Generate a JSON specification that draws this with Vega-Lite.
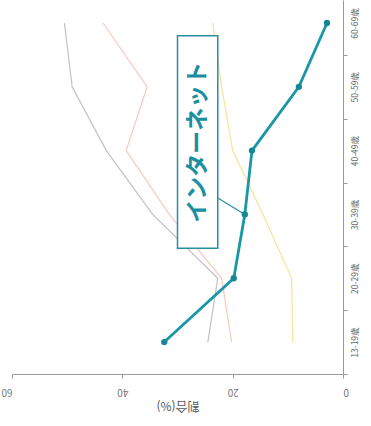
{
  "$schema": "https://vega.github.io/schema/vega-lite/v6.json",
  "width": 331,
  "height": 374,
  "autosize": "none",
  "padding": {"left": 12, "top": 0, "right": 28, "bottom": 52},
  "background": "white",
  "config": {"view": {"stroke": null}, "font": "Noto Sans CJK JP"},
  "datasets": {
    "series": [
      {"media": "テレビ", "age": "13-19歳", "order": 1, "pct": 24.5},
      {"media": "テレビ", "age": "20-29歳", "order": 2, "pct": 22.7},
      {"media": "テレビ", "age": "30-39歳", "order": 3, "pct": 34.5},
      {"media": "テレビ", "age": "40-49歳", "order": 4, "pct": 42.9},
      {"media": "テレビ", "age": "50-59歳", "order": 5, "pct": 49.1},
      {"media": "テレビ", "age": "60-69歳", "order": 6, "pct": 50.5},
      {"media": "新聞", "age": "13-19歳", "order": 1, "pct": 20.2},
      {"media": "新聞", "age": "20-29歳", "order": 2, "pct": 22.0},
      {"media": "新聞", "age": "30-39歳", "order": 3, "pct": 31.5},
      {"media": "新聞", "age": "40-49歳", "order": 4, "pct": 39.3},
      {"media": "新聞", "age": "50-59歳", "order": 5, "pct": 35.5},
      {"media": "新聞", "age": "60-69歳", "order": 6, "pct": 43.5},
      {"media": "雑誌", "age": "13-19歳", "order": 1, "pct": 9.1},
      {"media": "雑誌", "age": "20-29歳", "order": 2, "pct": 9.3},
      {"media": "雑誌", "age": "30-39歳", "order": 3, "pct": 14.5},
      {"media": "雑誌", "age": "40-49歳", "order": 4, "pct": 20.0},
      {"media": "雑誌", "age": "50-59歳", "order": 5, "pct": 22.0},
      {"media": "雑誌", "age": "60-69歳", "order": 6, "pct": 23.6}
    ],
    "internet": [
      {"media": "インターネット", "age": "13-19歳", "order": 1, "pct": 32.4},
      {"media": "インターネット", "age": "20-29歳", "order": 2, "pct": 19.8},
      {"media": "インターネット", "age": "30-39歳", "order": 3, "pct": 17.8},
      {"media": "インターネット", "age": "40-49歳", "order": 4, "pct": 16.5},
      {"media": "インターネット", "age": "50-59歳", "order": 5, "pct": 8.0},
      {"media": "インターネット", "age": "60-69歳", "order": 6, "pct": 2.9}
    ],
    "label": [
      {"text": "インターネット", "x1": 30.0, "x2": 22.7, "y1": 5.80, "y2": 2.47, "xc": 26.35, "yc": 4.13}
    ],
    "leader": [
      {"pct": 22.9, "order": 3.27},
      {"pct": 17.8, "order": 3.0}
    ]
  },
  "layer": [
    {
      "data": {"name": "series"},
      "mark": {"type": "line", "strokeWidth": 1.2, "opacity": 0.75},
      "encoding": {
        "x": {
          "field": "pct", "type": "quantitative",
          "scale": {"domain": [0, 60], "reverse": true, "nice": false},
          "axis": {
            "values": [0, 20, 40, 60], "labelAngle": 180, "title": "割合(%)", "titleAngle": 180,
            "grid": false, "domainColor": "#999", "tickColor": "#999", "tickSize": 4,
            "labelColor": "#777", "labelFontSize": 10, "labelPadding": 8,
            "titleColor": "#555", "titleFontSize": 12, "titleFontWeight": "normal", "titlePadding": 14
          }
        },
        "y": {
          "field": "order", "type": "quantitative",
          "scale": {"domain": [0.5, 6.36], "nice": false, "zero": false},
          "axis": {
            "orient": "right", "values": [1, 2, 3, 4, 5, 6],
            "labelExpr": "['','13-19歳','20-29歳','30-39歳','40-49歳','50-59歳','60-69歳'][datum.value]",
            "labelAngle": 270, "labelAlign": "center", "labelBaseline": "middle",
            "tickOffset": 32, "labelOffset": -32, "grid": false, "title": null,
            "domainColor": "#999", "tickColor": "#999", "tickSize": 4,
            "labelColor": "#666", "labelFontSize": 8.5, "labelPadding": 7
          }
        },
        "color": {
          "field": "media", "type": "nominal",
          "scale": {"domain": ["テレビ", "新聞", "雑誌", "インターネット"], "range": ["#b4a8b0", "#f4b8a4", "#f6d878", "#1a97a6"]},
          "legend": null
        },
        "order": {"field": "order"}
      }
    },
    {
      "data": {"name": "leader"},
      "mark": {"type": "line", "color": "#2a8f9c", "strokeWidth": 1.3},
      "encoding": {
        "x": {"field": "pct", "type": "quantitative"},
        "y": {"field": "order", "type": "quantitative"}
      }
    },
    {
      "data": {"name": "internet"},
      "mark": {"type": "line", "color": "#1a97a6", "strokeWidth": 2.8, "point": {"filled": true, "size": 40, "color": "#168895"}},
      "encoding": {
        "x": {"field": "pct", "type": "quantitative"},
        "y": {"field": "order", "type": "quantitative"},
        "order": {"field": "order"}
      }
    },
    {
      "data": {"name": "label"},
      "mark": {"type": "rect", "fill": "white", "stroke": "#2a8f9c", "strokeWidth": 1.5},
      "encoding": {
        "x": {"field": "x1", "type": "quantitative"},
        "x2": {"field": "x2"},
        "y": {"field": "y1", "type": "quantitative"},
        "y2": {"field": "y2"}
      }
    },
    {
      "data": {"name": "label"},
      "mark": {"type": "text", "angle": 270, "fontSize": 23, "fontWeight": "bold", "color": "#1a8fa0", "align": "center", "baseline": "middle"},
      "encoding": {
        "x": {"field": "xc", "type": "quantitative"},
        "y": {"field": "yc", "type": "quantitative"},
        "text": {"field": "text"}
      }
    }
  ]
}
